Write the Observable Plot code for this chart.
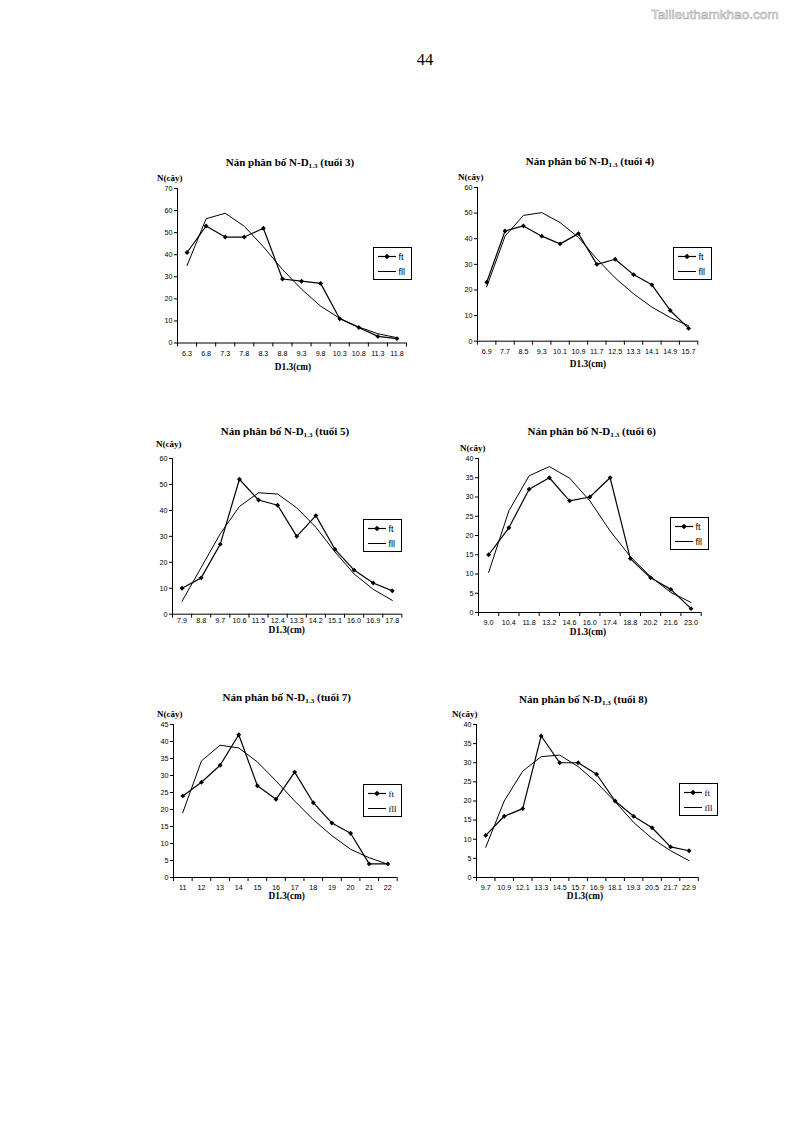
<!DOCTYPE html>
<html>
<head>
<meta charset="utf-8">
<script src="https://cdn.jsdelivr.net/npm/d3@7"></script>
<script src="https://cdn.jsdelivr.net/npm/@observablehq/plot@0.6"></script>
<style>
  html, body { margin: 0; padding: 0; background: #fff; }
  #page { position: relative; width: 794px; height: 1123px; overflow: hidden; background: #fff; }
</style>
</head>
<body>
<div id="page"></div>
<script>
// ---------------- data ----------------
const ages = [3, 4, 5, 6, 7, 8];

const cats3 = ["6.3","6.8","7.3","7.8","8.3","8.8","9.3","9.8","10.3","10.8","11.3","11.8"];
const ft3   = [41, 53, 48, 48, 52, 29, 28, 27, 11, 7, 3, 2];
const fll3  = [35.1, 56.3, 58.8, 52.9, 43.6, 33.3, 24.4, 16.7, 11.2, 7.2, 4.2, 2.4];

const cats4 = ["6.9","7.7","8.5","9.3","10.1","10.9","11.7","12.5","13.3","14.1","14.9","15.7"];
const ft4   = [23, 43, 45, 41, 38, 42, 30, 32, 26, 22, 12, 5];
const fll4  = [21.2, 41, 49.1, 50.2, 46.3, 40.5, 32.1, 24.7, 18.5, 13.3, 9.2, 6.0];

const cats5 = ["7.9","8.8","9.7","10.6","11.5","12.4","13.3","14.2","15.1","16.0","16.9","17.8"];
const ft5   = [10, 14, 27, 52, 44, 42, 30, 38, 25, 17, 12, 9];
const fll5  = [5, 18, 31, 41.5, 46.8, 46.3, 41, 33.5, 24, 15.5, 9.6, 5.3];

const cats6 = ["9.0","10.4","11.8","13.2","14.6","16.0","17.4","18.8","20.2","21.6","23.0"];
const ft6   = [15, 22, 32, 35, 29, 30, 35, 14, 9, 6, 1];
const fll6  = [10.4, 26.4, 35.5, 37.9, 34.9, 29, 21.2, 14.5, 9.3, 5.2, 2.6];

const cats7 = ["11","12","13","14","15","16","17","18","19","20","21","22"];
const ft7   = [24, 28, 33, 42, 27, 23, 31, 22, 16, 13, 4, 4];
const fll7  = [19.1, 34.3, 38.9, 38.1, 34, 28.4, 22.5, 17, 12.3, 8.3, 5.8, 3.9];

const cats8 = ["9.7","10.9","12.1","13.3","14.5","15.7","16.9","18.1","19.3","20.5","21.7","22.9"];
const ft8   = [11, 16, 18, 37, 30, 30, 27, 20, 16, 13, 8, 7];
const fll8  = [7.9, 20, 27.8, 31.6, 32, 29, 24.8, 19.8, 14.4, 10.2, 7, 4.4];

const yMax  = [70, 60, 60, 40, 45, 40];
const yStep = [10, 10, 10, 5, 5, 5];

const seriesNames = ["ft", "fll"];
const titleText = "Nán phân bố N-D";
const titleSub = "1.3";
const yLabel = "N(cây)";
const xLabel = "D1.3(cm)";
const pageNumber = "44";
const watermark = "Tailieuthamkhao.com";

// ---------------- layout (page pixel geometry) ----------------
const layout = [
  {x0:177,   x1:406,   yTop:188,   yBot:342.5, tx:290,   ty:163,   nx:157, ny:178,   lx:354,   dx:293,   dy:368,   legX:373, legY:247, legSerif:false},
  {x0:476.7, x1:697,   yTop:187.3, yBot:341,   tx:590,   ty:161.5, nx:458, ny:177,   lx:352.7, dx:588,   dy:365,   legX:673, legY:247, legSerif:false},
  {x0:172.3, x1:401.7, yTop:458.3, yBot:614,   tx:285,   ty:431.7, nx:156, ny:444,   lx:621.5, dx:286.7, dy:631,   legX:363, legY:519, legSerif:false},
  {x0:478.3, x1:701,   yTop:457.7, yBot:611.7, tx:591.7, ty:431.7, nx:460, ny:448,   lx:622.7, dx:588,   dy:632.7, legX:670, legY:517, legSerif:false},
  {x0:173.3, x1:397,   yTop:723.7, yBot:876.7, tx:286.7, ty:698.3, nx:157, ny:714.3, lx:887.3, dx:286.7, dy:897,   legX:363, legY:784, legSerif:true},
  {x0:476,   x1:697.8, yTop:723.7, yBot:876.7, tx:583.3, ty:700,   nx:452, ny:714.3, lx:887.3, dx:585,   dy:897,   legX:679, legY:783, legSerif:true}
];

const allCats = [cats3, cats4, cats5, cats6, cats7, cats8];
const allFt   = [ft3, ft4, ft5, ft6, ft7, ft8];
const allFll  = [fll3, fll4, fll5, fll6, fll7, fll8];

const page = document.getElementById("page");

function addText(html, x, y, css, anchor = "center") {
  const d = document.createElement("div");
  d.innerHTML = html;
  const tx = anchor === "center" ? "-50%" : "0";
  d.style.cssText = `position:absolute;left:${x}px;top:${y}px;transform:translate(${tx},-50%);white-space:nowrap;line-height:1;color:#000;${css}`;
  page.appendChild(d);
  return d;
}

// page number & watermark
addText(pageNumber, 425, 60, "font-family:'Liberation Serif','Times New Roman',serif;font-size:16.5px;");
addText(watermark, 651, 15, "font-family:'Liberation Sans',Arial,sans-serif;font-size:13.6px;color:#fff;-webkit-text-stroke:0.6px #a8a8a8;", "left");

const mL = 30, mR = 12, mT = 6, mB = 22;

ages.forEach((age, k) => {
  const L = layout[k];
  const cats = allCats[k], ft = allFt[k], fll = allFll[k];
  const n = cats.length;
  const rows = cats.map((c, i) => ({i, c, ft: ft[i], fll: fll[i]}));
  const plotW = L.x1 - L.x0, plotH = L.yBot - L.yTop;
  const labelPad = L.lx - L.yBot - 3.6;

  const chart = Plot.plot({
    width: mL + plotW + mR,
    height: mT + plotH + mB,
    marginLeft: mL, marginRight: mR, marginTop: mT, marginBottom: mB,
    style: {fontFamily: "'Liberation Sans', Arial, sans-serif", fontSize: "7.2px", color: "#000", background: "transparent", overflow: "visible"},
    x: {type: "linear", domain: [-0.5, n - 0.5]},
    y: {domain: [0, yMax[k]]},
    marks: [
      Plot.axisY(d3.range(0, yMax[k] + 0.001, yStep[k]), {tickSize: 3, tickPadding: 2, label: null, stroke: "#000", fill: "#000"}),
      Plot.axisX(d3.range(n + 1).map(i => i - 0.5), {tickSize: 4, tickFormat: () => "", label: null, stroke: "#000"}),
      Plot.axisX(d3.range(n), {tickSize: 0, tickPadding: labelPad, tickFormat: i => cats[i], label: null, fill: "#000"}),
      Plot.ruleX([-0.5], {y1: 0, y2: yMax[k], stroke: "#000", strokeWidth: 1}),
      Plot.ruleY([0], {stroke: "#000", strokeWidth: 1}),
      Plot.line(rows, {x: "i", y: "fll", stroke: "#000", strokeWidth: 1}),
      Plot.line(rows, {x: "i", y: "ft", stroke: "#000", strokeWidth: 1.2}),
      Plot.dot(rows, {x: "i", y: "ft", symbol: "diamond2", r: 2.2, fill: "#000", stroke: "none"})
    ]
  });
  const wrap = document.createElement("div");
  wrap.style.cssText = `position:absolute;left:${L.x0 - mL}px;top:${L.yTop - mT}px;`;
  wrap.appendChild(chart);
  page.appendChild(wrap);

  const serif = "font-family:'Liberation Serif','Times New Roman',serif;font-weight:bold;";
  addText(`${titleText}<span style="font-size:0.65em;position:relative;top:0.3em;">${titleSub}</span> (tuổi ${age})`, L.tx, L.ty, serif + "font-size:11px;");
  addText(yLabel, L.nx, L.ny, serif + "font-size:9px;", "left");
  addText(xLabel, L.dx, L.dy, serif + "font-size:9.3px;");

  // legend (box drawn in SVG, labels as plain page text)
  const lw = 39, lh = 33;
  const lf = L.legSerif ? "'Liberation Serif','Times New Roman',serif" : "'Liberation Sans',Arial,sans-serif";
  const leg = document.createElement("div");
  leg.style.cssText = `position:absolute;left:${L.legX}px;top:${L.legY}px;width:${lw}px;height:${lh}px;`;
  leg.innerHTML = `<svg width="${lw}" height="${lh}" style="position:absolute;left:0;top:0;display:block">
    <rect x="0.5" y="0.5" width="${lw-1}" height="${lh-1}" fill="#fff" stroke="#000" stroke-width="1"/>
    <line x1="5" x2="23" y1="9.5" y2="9.5" stroke="#000" stroke-width="1.2"/>
    <path d="M14,6.8 L16.7,9.5 L14,12.2 L11.3,9.5 Z" fill="#000"/>
    <line x1="5" x2="23" y1="24.5" y2="24.5" stroke="#000" stroke-width="1"/>
  </svg>`;
  page.appendChild(leg);
  addText(seriesNames[0], L.legX + 25.5, L.legY + 9.5, `font-family:${lf};font-size:9px;`, "left");
  addText(seriesNames[1], L.legX + 25.5, L.legY + 24.5, `font-family:${lf};font-size:9px;`, "left");
});
</script>
</body>
</html>
